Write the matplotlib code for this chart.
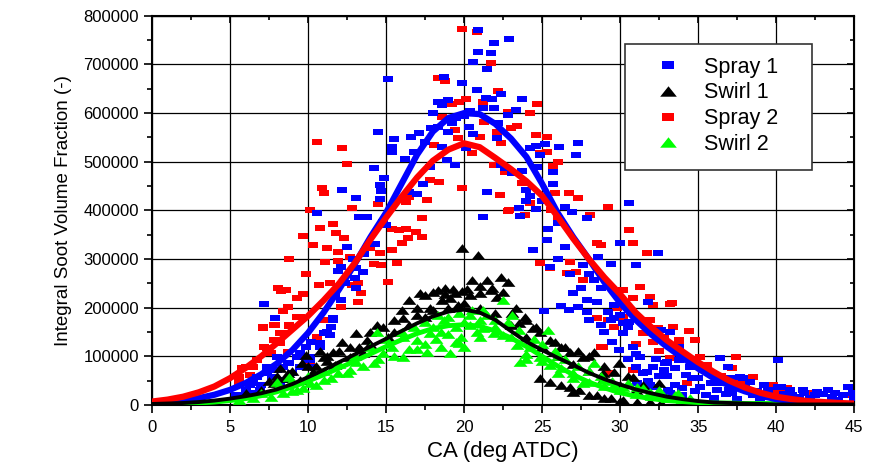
import numpy as np
import matplotlib
matplotlib.use('Agg')
import matplotlib.pyplot as plt
from matplotlib.path import Path
from matplotlib.lines import Line2D
from matplotlib.patches import Rectangle
from matplotlib.ticker import MultipleLocator, FuncFormatter, NullFormatter

plt.rcParams['font.family'] = ['Liberation Sans', 'DejaVu Sans']

# scatter data: CA (deg ATDC), soot (thousands)
spray1_ca = [20.9, 22.9, 21.9, 20.9, 21.7, 20.6, 21.5, 15.1, 18.7, 19.9, 20.8, 21.4, 21.8, 22.4, 19.0, 18.3, 18.6, 18.0,
             21.2, 21.9, 20.4, 22.8, 18.3, 20.3, 19.0, 20.6, 22.1, 14.5, 15.5, 16.6, 17.1, 15.4, 15.4, 18.6, 20.1, 16.2,
             18.9, 19.4, 14.2, 17.8, 22.4, 14.9, 14.6, 17.4, 12.2, 14.7, 16.5, 17.0, 13.1, 14.6, 21.5, 10.6, 13.3, 21.2,
             23.7, 23.3, 22.2, 24.2, 24.6, 25.2, 26.1, 27.3, 27.2, 24.9, 22.6, 23.1, 23.7, 24.7, 25.7, 25.7, 24.0, 24.2,
             24.0, 25.0, 23.5, 24.6, 23.6, 26.5, 26.9, 27.9, 30.6,
             7.2, 7.9, 12.5, 11.9, 12.1, 13.1, 13.5, 13.1, 13.8, 14.8, 15.0, 11.7, 12.1, 11.6, 11.5, 11.0, 11.4, 10.2,
             10.8, 9.9, 9.3, 10.1, 8.8, 9.8, 8.0, 7.4, 6.7, 6.3, 8.2, 9.0, 8.4, 12.9, 13.6, 14.3, 13.0, 12.4,
             16.8, 17.5, 19.5, 20.0, 19.2, 17.9, 5.5, 6.0, 7.0, 6.5,
             25.4, 26.0, 24.4, 26.5, 25.5, 27.6, 28.6, 29.4, 30.0, 31.0, 32.4, 28.3, 28.8, 27.9, 28.5, 25.1, 26.2, 26.7,
             27.3, 27.9, 29.2, 29.6, 30.2, 31.8, 30.2, 30.5, 29.9, 31.3, 31.0, 31.5, 32.1, 32.6, 33.2, 33.8, 33.8, 32.8,
             34.5, 35.3, 36.4, 36.9, 37.7, 38.3, 39.2, 40.1, 40.1, 40.9, 41.7, 42.6, 43.3, 44.6, 44.9, 31.1, 31.9, 33.2,
             34.0, 35.1, 36.2, 37.2, 39.4, 41.5, 43.6, 42.5, 38.5, 35.8, 34.6, 33.0, 32.3, 30.8, 29.0, 28.0,
             11.2, 11.6, 7.4, 8.0, 8.7, 9.5, 9.9, 10.3, 7.7, 8.4, 6.5, 6.9, 6.1, 5.4, 9.5, 10.1, 10.8,
             33.5, 34.0, 34.8, 35.5, 36.0, 36.8, 37.5, 38.0, 38.8, 39.5, 40.5, 41.0, 41.8, 42.2, 43.0, 43.8, 44.3,
             45.0, 39.0, 40.0, 42.0, 44.0, 37.0, 36.5, 35.0, 34.2, 33.5, 33.0, 32.5, 31.8, 31.0, 30.5, 29.5, 28.8,
             30.0, 27.5, 26.8, 26.0, 25.3, 27.0, 28.0,
             31.7, 32.9, 33.7, 37.1, 37.9, 40.3, 32.1, 33.1, 30.6, 29.4, 29.6]
spray1_val = [771, 753, 744, 726, 724, 705, 691, 670, 675, 662, 648, 631, 629, 640, 627, 623, 617, 600,
              611, 611, 605, 597, 572, 572, 561, 557, 549, 561, 547, 551, 559, 531, 520, 531, 529, 506,
              504, 494, 487, 490, 494, 467, 453, 455, 442, 440, 438, 434, 426, 424, 438, 395, 387, 387,
              629, 607, 580, 529, 533, 537, 531, 539, 514, 514, 487, 477, 481, 490, 479, 455, 442, 430,
              420, 420, 405, 403, 389, 407, 397, 385, 416,
              208, 179, 325, 276, 283, 282, 274, 241, 387, 376, 370, 226, 216, 179, 160, 148, 144, 130,
              128, 119, 99, 93, 86, 78, 99, 66, 58, 41, 47, 66, 78, 300, 310, 330, 262, 250,
              520, 540, 590, 595, 580, 570, 20, 30, 40, 25,
              362, 374, 319, 325, 284, 288, 304, 290, 333, 288, 313, 257, 241, 216, 212, 193, 204, 195,
              202, 191, 191, 179, 169, 212, 148, 160, 113, 99, 78, 66, 78, 154, 150, 93, 119, 72,
              78, 72, 97, 78, 58, 47, 41, 93, 37, 31, 31, 27, 31, 37, 25, 45, 41, 25,
              35, 37, 31, 25, 16, 16, 16, 20, 20, 45, 55, 60, 95, 120, 150, 175,
              150, 175, 78, 72, 86, 78, 93, 78, 58, 51, 45, 31, 25, 21, 107, 99, 119,
              40, 20, 28, 20, 15, 22, 12, 35, 28, 30, 22, 20, 25, 15, 22, 25, 20,
              15, 10, 8, 8, 10, 30, 45, 55, 62, 75, 88, 60, 50, 105, 95, 130, 165,
              185, 240, 270, 300, 340, 230, 270,
              68, 86, 113, 56, 56, 37, 37, 31, 171, 175, 206]

spray2_ca = [19.9, 20.8, 21.7, 18.3, 18.8, 22.2, 20.1, 19.7, 21.2, 19.2, 22.8, 18.6, 21.3, 19.4, 19.6, 21.0, 22.1,
             10.6, 12.2, 18.1, 22.4, 20.5, 12.5, 21.9, 22.6, 17.8, 18.4, 19.9, 10.9, 11.0, 14.5, 16.3, 17.6, 16.5,
             22.3, 12.8, 10.1, 22.8, 17.3,
             24.7, 24.2, 22.8, 23.4, 23.0, 24.6, 25.3, 26.0, 25.7, 24.9, 25.3, 23.7, 25.8, 26.7, 27.3, 29.2, 28.1,
             23.9, 25.6, 26.0,
             10.8, 11.6, 9.7, 11.8, 12.3, 10.3, 11.2, 11.9, 8.8, 11.1, 11.9, 12.7, 14.0, 14.6, 15.4, 15.8, 16.3,
             16.9, 17.3, 16.4, 16.0, 15.4, 15.7, 14.7, 14.2, 15.1, 9.9, 10.7, 11.4, 12.8, 13.2, 13.4, 13.2, 12.1,
             8.1, 8.3, 8.6, 9.3, 9.7, 8.4, 7.9, 7.1, 8.8, 7.2, 8.2, 9.3, 8.7, 6.0, 6.3, 5.6, 11.0, 10.6, 9.7,
             10.1, 7.8, 7.4, 5.8, 6.5,
             22.9, 24.2, 30.6, 30.8, 31.7, 24.9, 25.5, 26.6, 27.2, 27.6, 28.5, 28.8, 26.8, 30.2, 31.3, 30.8, 31.9,
             32.1, 33.2, 28.5, 28.8, 29.6, 30.2, 31.9, 33.4, 32.8, 33.8, 34.4, 34.8, 33.2, 35.1, 35.6, 37.4, 38.5,
             34.3, 37.5, 39.8, 40.4, 42.4, 44.7, 41.5, 36.5, 32.5, 31.0, 29.8,
             7.1, 7.8, 8.4, 8.8, 8.2, 7.6, 6.7, 6.1, 5.6, 9.5, 8.7,
             33.3, 31.8, 32.4, 33.8, 32.1, 31.5, 29.2, 28.9, 37.2, 37.9, 39.8, 40.7, 30.8, 29.2]
spray2_val = [773, 767, 703, 672, 667, 646, 629, 623, 623, 619, 600, 592, 582, 566, 549, 551, 561,
              541, 529, 535, 539, 518, 496, 494, 479, 463, 459, 446, 446, 436, 413, 418, 422, 428,
              432, 405, 401, 399, 385,
              619, 600, 603, 574, 570, 555, 551, 500, 492, 518, 520, 457, 436, 436, 426, 407, 391,
              391, 401, 385,
              364, 372, 348, 354, 343, 329, 323, 315, 300, 294, 296, 304, 323, 313, 362, 360, 362,
              356, 346, 344, 333, 319, 292, 288, 290, 253, 269, 247, 251, 247, 251, 230, 212, 202,
              241, 235, 237, 220, 228, 193, 165, 158, 162, 119, 148, 181, 109, 78, 62, 47, 175, 140, 99,
              85, 134, 117, 76, 78,
              401, 416, 360, 333, 313, 292, 282, 271, 274, 257, 333, 328, 294, 237, 243, 220, 222,
              206, 208, 179, 119, 160, 181, 175, 160, 140, 134, 152, 134, 97, 99, 82, 99, 58,
              45, 47, 25, 27, 25, 21, 15, 60, 110, 125, 200,
              160, 165, 148, 165, 128, 107, 93, 78, 58, 181, 202,
              210, 175, 158, 130, 130, 148, 175, 119, 76, 47, 41, 35, 72, 66]

swirl1_ca = [19.9, 20.9, 20.5, 21.5, 22.4, 18.8, 18.3, 19.3, 17.5, 19.9, 20.4, 21.7, 18.6, 19.1, 17.8, 19.6, 17.0,
             16.1, 14.4, 13.1, 13.8, 15.1, 12.2, 11.6, 11.0, 9.9, 9.6, 12.7, 13.5, 8.2, 8.7, 10.3, 9.5, 11.7, 12.7,
             22.8, 22.1, 21.0, 23.1, 23.9, 24.4, 24.9, 25.5, 26.2, 26.8, 27.6, 28.3, 29.9, 28.9, 30.8, 24.9, 25.5,
             26.2, 26.8, 27.4, 28.5, 29.4, 30.2, 31.1, 31.9, 32.6,
             6.0, 7.0, 7.8, 8.5, 10.5, 11.2, 14.0, 15.5, 16.5, 17.5, 18.0, 19.0, 20.0, 21.0, 22.0, 23.0, 24.0, 25.0,
             26.0, 27.0, 28.0, 29.0, 30.0,
             16.5, 17.2, 18.0, 18.8, 19.4, 20.2, 21.0, 21.8, 22.5, 23.3, 24.0, 17.0, 16.0, 15.5, 14.8, 14.0, 23.5,
             24.6, 25.8, 26.5, 27.3, 28.0, 29.0, 29.6, 30.5, 31.5, 32.5, 31.0, 27.0, 28.0, 29.0, 30.0, 12.0, 11.2,
             10.0, 9.0, 8.0, 7.5, 10.8, 13.3]
swirl1_val = [323, 309, 257, 257, 263, 241, 237, 239, 226, 235, 226, 237, 216, 220, 200, 206, 185,
              179, 165, 148, 134, 140, 130, 109, 99, 103, 86, 119, 107, 76, 66, 68, 51, 82, 99,
              253, 222, 230, 189, 181, 158, 150, 134, 119, 109, 99, 109, 86, 66, 58, 56, 47,
              41, 37, 31, 21, 14, 10, 6, 6, 4,
              25, 30, 45, 55, 80, 90, 125, 150, 165, 180, 195, 200, 210, 200, 190, 165, 140, 120,
              100, 85, 70, 55, 40,
              215, 230, 232, 228, 230, 238, 245, 240, 232, 200, 175, 200, 195, 175, 160, 150, 168,
              160, 130, 120, 110, 100, 80, 68, 60, 40, 45, 30, 27, 20, 15, 8, 110, 100,
              80, 70, 60, 50, 110, 120]

swirl2_ca = [22.5, 23.1, 19.5, 19.1, 19.5, 20.4, 21.2, 21.9, 22.5, 23.4, 23.6, 24.2, 24.9, 25.4, 25.5, 26.2, 27.0,
             28.3, 27.6, 28.9, 29.6, 30.2, 31.1, 31.9, 32.6, 33.7,
             21.2, 20.4, 19.7, 18.7, 17.8, 17.6, 17.0, 16.1, 15.4, 16.1, 14.8, 14.2, 13.1, 12.7, 11.9, 11.0, 10.1,
             9.3, 8.4, 7.6, 6.5, 5.6, 8.0, 8.8, 14.4,
             18.0, 18.5, 20.0, 21.0, 20.8, 19.0, 17.5, 16.5, 15.5, 14.5, 13.5, 12.5, 11.5, 10.5, 9.7, 9.0, 24.0,
             25.0, 26.0, 27.0, 28.0, 29.0, 30.0, 31.0, 32.0, 33.0, 34.0, 23.0, 22.0, 19.8, 18.2,
             16.0, 16.8, 17.5, 18.3, 19.0, 19.7, 20.5, 21.5, 22.0, 22.8, 23.5, 24.5, 25.0, 25.8, 26.5, 27.3, 28.0,
             28.8, 29.5, 30.5, 31.5, 32.5, 33.5, 34.5, 13.0, 12.0, 11.0, 10.0, 9.0, 8.0, 7.0, 15.0, 14.0, 18.5,
             17.0, 21.0, 20.0, 24.0, 26.0]
swirl2_val = [216, 185, 130, 107, 160, 165, 158, 148, 144, 123, 88, 119, 99, 154, 82, 76, 66,
              86, 45, 51, 41, 37, 37, 27, 25, 25,
              195, 185, 128, 175, 148, 109, 134, 140, 119, 99, 107, 86, 88, 72, 66, 51, 45,
              31, 25, 16, 14, 10, 47, 58, 150,
              160, 150, 170, 175, 150, 145, 125, 115, 100, 95, 80, 65, 55, 40, 35, 28, 105,
              90, 65, 55, 48, 38, 30, 22, 18, 15, 12, 140, 160, 140, 135,
              150, 160, 170, 185, 180, 190, 195, 185, 175, 170, 155, 135, 125, 110, 95, 80, 70,
              60, 50, 45, 35, 30, 20, 15, 100, 85, 70, 60, 50, 35, 25, 135, 120, 120,
              115, 140, 120, 95, 100]

# fitted curves, read at every degree 0..45 (thousands)
fit_ca = list(range(46))
fit_spray1 = [4, 6, 9, 14, 21, 31, 45, 63, 85, 113, 148, 190, 238, 290, 345, 395, 455, 515, 562, 590, 600, 598,
              578, 548, 510, 455, 395, 345, 300, 252, 210, 175, 145, 120, 97, 75, 55, 40, 28, 19, 12, 8, 5, 3, 2, 1]
fit_spray2 = [7, 11, 17, 26, 38, 55, 76, 100, 127, 155, 183, 215, 250, 292, 340, 385, 428, 468, 502, 525, 538, 530,
              508, 485, 460, 430, 387, 342, 300, 262, 228, 190, 160, 133, 110, 88, 68, 50, 36, 25, 17, 12, 8, 6, 4, 3]
fit_swirl1 = [2, 3, 4, 6, 9, 13, 18, 24, 32, 43, 57, 72, 88, 104, 120, 136, 152, 168, 182, 192, 196, 190,
              175, 152, 130, 113, 97, 82, 66, 53, 42, 32, 24, 17, 12, 8, 5, 4, 3, 2, 1, 1, 1, 1, 1, 1]
fit_swirl2 = [1, 1.5, 2.5, 4, 6, 9, 13, 19, 27, 37, 49, 62, 76, 90, 105, 120, 134, 147, 157, 163, 165, 162,
              152, 138, 120, 100, 80, 62, 47, 35, 25, 18, 13, 9, 7, 5, 4, 4, 3, 3, 3, 2, 2, 2, 2, 2]

labels = ['Spray 1', 'Swirl 1', 'Spray 2', 'Swirl 2']
colors = ['#0000ff', '#000000', '#ff0000', '#00ff00']

# wide markers, the original picture is stretched sideways
rect = Path([(-1.55, -1), (1.55, -1), (1.55, 1), (-1.55, 1), (-1.55, -1)],
            [Path.MOVETO, Path.LINETO, Path.LINETO, Path.LINETO, Path.CLOSEPOLY])
tri = Path([(-1.6, -1), (1.6, -1), (0, 1), (-1.6, -1)],
           [Path.MOVETO, Path.LINETO, Path.LINETO, Path.CLOSEPOLY])

k = 1000
fig = plt.figure(figsize=(8.76, 4.66), dpi=100)
ax = fig.add_axes([0.1735, 0.131, 0.8015, 0.835])

ax.plot(spray2_ca, np.array(spray2_val) * k, ls='none', marker=rect, ms=6.8, mew=0, color=colors[2], zorder=3)
ax.plot(spray1_ca, np.array(spray1_val) * k, ls='none', marker=rect, ms=6.8, mew=0, color=colors[0], zorder=3)
ax.plot(swirl1_ca, np.array(swirl1_val) * k, ls='none', marker=tri, ms=10, mew=0, color=colors[1], zorder=3)
ax.plot(swirl2_ca, np.array(swirl2_val) * k, ls='none', marker=tri, ms=10, mew=0, color=colors[3], zorder=3)

ax.plot(fit_ca, np.array(fit_swirl2) * k, color=colors[3], lw=3.5, zorder=4)
ax.plot(fit_ca, np.array(fit_spray1) * k, color=colors[0], lw=4.5, zorder=4)
ax.plot(fit_ca, np.array(fit_spray2) * k, color=colors[2], lw=4.5, zorder=4)
ax.plot(fit_ca, np.array(fit_swirl1) * k, color=colors[1], lw=2.8, zorder=4)

ax.set_xlim(0, 45)
ax.set_ylim(0, 800000)
ax.xaxis.set_major_locator(MultipleLocator(5))
ax.xaxis.set_minor_locator(MultipleLocator(2.5))
ax.yaxis.set_major_locator(MultipleLocator(100000))
ax.yaxis.set_minor_locator(MultipleLocator(50000))
ax.yaxis.set_major_formatter(FuncFormatter(lambda v, p: '%d' % v))
ax.grid(True, which='major', color='black', lw=0.9, zorder=1)
ax.set_axisbelow(True)

ax.tick_params(which='both', direction='out', labelsize=12, width=1.2, colors='black')
ax.tick_params(which='major', length=6)
ax.tick_params(which='minor', length=3.5)
ax.tick_params(axis='x', which='major', pad=5)

# inward ticks on top and right, no labels
top = ax.secondary_xaxis('top')
top.xaxis.set_major_locator(MultipleLocator(5))
top.xaxis.set_minor_locator(MultipleLocator(2.5))
top.xaxis.set_major_formatter(NullFormatter())
right = ax.secondary_yaxis('right')
right.yaxis.set_major_locator(MultipleLocator(100000))
right.yaxis.set_minor_locator(MultipleLocator(50000))
right.yaxis.set_major_formatter(NullFormatter())
for sec in (top, right):
    sec.tick_params(which='both', direction='in', width=1.2)
    sec.tick_params(which='major', length=5)
    sec.tick_params(which='minor', length=3)
for s in ax.spines.values():
    s.set_linewidth(1.5)

ax.set_xlabel('CA (deg ATDC)', fontsize=16, labelpad=4)
ax.set_ylabel('Integral Soot Volume Fraction (-)', fontsize=13.5, labelpad=8)

# legend box with blank space at the bottom, as in the original
ax.add_patch(Rectangle((0.674, 0.604), 0.266, 0.324, transform=ax.transAxes,
                       facecolor='white', edgecolor='#333333', lw=1.2, zorder=6))
handles = [Line2D([], [], ls='none', marker=rect, ms=8.5, mew=0, color=colors[0]),
           Line2D([], [], ls='none', marker=tri, ms=12, mew=0, color=colors[1]),
           Line2D([], [], ls='none', marker=rect, ms=8.5, mew=0, color=colors[2]),
           Line2D([], [], ls='none', marker=tri, ms=12, mew=0, color=colors[3])]
leg = ax.legend(handles, labels, loc='upper left', bbox_to_anchor=(0.685, 0.945), frameon=False,
                fontsize=15.5, labelspacing=0.22, handletextpad=0.9, handlelength=1.5)
leg.set_zorder(7)

fig.savefig('out.png', dpi=100)
